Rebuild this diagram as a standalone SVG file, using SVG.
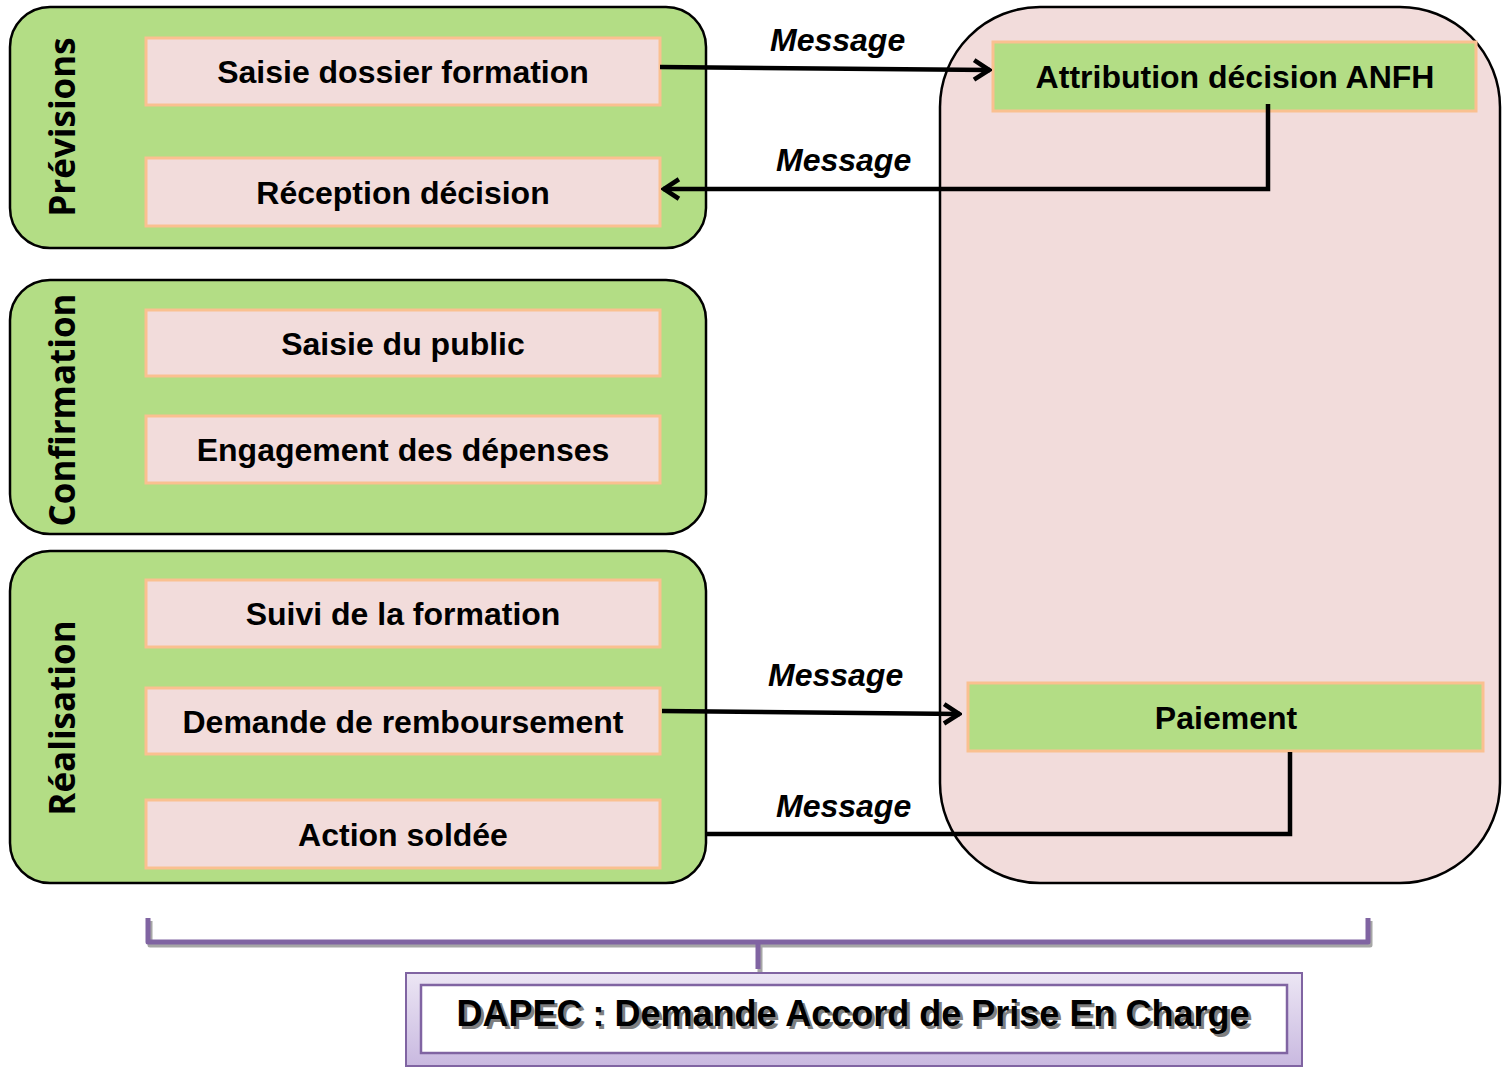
<svg xmlns="http://www.w3.org/2000/svg" width="1511" height="1068" viewBox="0 0 1511 1068">
<defs>
<style>
.lane{fill:#b3dd85;stroke:#000;stroke-width:2.5}
.box{fill:#f2dcdb;stroke:#fac090;stroke-width:3}
.gbox{fill:#b3dd85;stroke:#fac090;stroke-width:3}
.t{font-family:"Liberation Sans",Arial,sans-serif;font-weight:bold;font-size:32px;fill:#000;text-anchor:middle}
.lt{font-family:"Open Sans","DejaVu Sans",sans-serif;font-weight:bold;font-size:35px;fill:#000;text-anchor:middle}
.msg{font-family:"Liberation Sans",Arial,sans-serif;font-weight:bold;font-style:italic;font-size:32px;fill:#000}
.c{fill:none;stroke:#000;stroke-width:4.5}
.ca{fill:none;stroke:#000;stroke-width:4.5;marker-end:url(#chev)}
.brace{fill:none;stroke:#8064a2;stroke-width:5;stroke-linejoin:round}
.braceS{fill:none;stroke:#a6a6a6;stroke-width:5;stroke-linejoin:round}
</style>
<marker id="chev" viewBox="0 0 12 14" refX="11" refY="7" markerWidth="5" markerHeight="5.5" orient="auto" markerUnits="strokeWidth">
<path d="M2,1.5 L10.5,7 L2,12.5" fill="none" stroke="#000" stroke-width="2.6" stroke-linejoin="miter"/>
</marker>
<linearGradient id="pg" x1="0" y1="0" x2="0" y2="1">
<stop offset="0" stop-color="#ece6f4"/>
<stop offset="1" stop-color="#c9b9e0"/>
</linearGradient>
</defs>

<g id="anfh-lane">
<rect x="940" y="7" width="560" height="876" rx="100" ry="100" fill="#f2dcdb" stroke="#000" stroke-width="2.5"/>
</g>

<g id="lane-previsions">
<rect class="lane" x="10" y="7" width="696" height="241" rx="40" ry="40"/>
<text class="lt" transform="translate(75,127) rotate(-90)">Prévisions</text>
</g>
<g id="lane-confirmation">
<rect class="lane" x="10" y="280" width="696" height="254" rx="40" ry="40"/>
<text class="lt" transform="translate(75,410) rotate(-90)">Confirmation</text>
</g>
<g id="lane-realisation">
<rect class="lane" x="10" y="551" width="696" height="332" rx="40" ry="40"/>
<text class="lt" transform="translate(75,718) rotate(-90)">Réalisation</text>
</g>

<g id="n-saisie-dossier"><rect class="box" x="146" y="38" width="514" height="67"/><text class="t" x="403" y="83">Saisie dossier formation</text></g>
<g id="n-reception"><rect class="box" x="146" y="158" width="514" height="68"/><text class="t" x="403" y="204">Réception décision</text></g>
<g id="n-saisie-public"><rect class="box" x="146" y="310" width="514" height="66"/><text class="t" x="403" y="355">Saisie du public</text></g>
<g id="n-engagement"><rect class="box" x="146" y="416" width="514" height="67"/><text class="t" x="403" y="461">Engagement des dépenses</text></g>
<g id="n-suivi"><rect class="box" x="146" y="580" width="514" height="67"/><text class="t" x="403" y="625">Suivi de la formation</text></g>
<g id="n-demande"><rect class="box" x="146" y="688" width="514" height="66"/><text class="t" x="403" y="733">Demande de remboursement</text></g>
<g id="n-action"><rect class="box" x="146" y="800" width="514" height="68"/><text class="t" x="403" y="846">Action soldée</text></g>
<g id="n-attribution"><rect class="gbox" x="993" y="42" width="483" height="69"/><text class="t" x="1235" y="88">Attribution décision ANFH</text></g>
<g id="n-paiement"><rect class="gbox" x="968" y="683" width="515" height="68"/><text class="t" x="1226" y="729">Paiement</text></g>

<g id="connectors">
<path class="ca" d="M660,67 L990,70"/>
<path class="ca" d="M1268,104 L1268,189 L663,189"/>
<path class="ca" d="M662,711 L960,714"/>
<path class="c" d="M1290,752 L1290,834 L706,834"/>
<text class="msg" x="770" y="51">Message</text>
<text class="msg" x="776" y="171">Message</text>
<text class="msg" x="768" y="686">Message</text>
<text class="msg" x="776" y="817">Message</text>
</g>

<g id="brace">
<path class="braceS" d="M150,921 L150,945 L760,945 L760,972 M760,945 L1370,945 L1370,921"/>
<path class="brace" d="M148,918 L148,942 L758,942 L758,969 M758,942 L1368,942 L1368,918"/>
</g>

<g id="n-dapec">
<rect x="406" y="973" width="896" height="93" fill="url(#pg)" stroke="#8064a2" stroke-width="2"/>
<rect x="421" y="985" width="866" height="68" fill="#fff" stroke="#8064a2" stroke-width="2.5"/>
<text class="t" x="856" y="1029" style="font-size:36px;fill:#7f7f7f">DAPEC : Demande Accord de Prise En Charge</text>
<text class="t" x="853" y="1026" style="font-size:36px">DAPEC : Demande Accord de Prise En Charge</text>
</g>
</svg>
